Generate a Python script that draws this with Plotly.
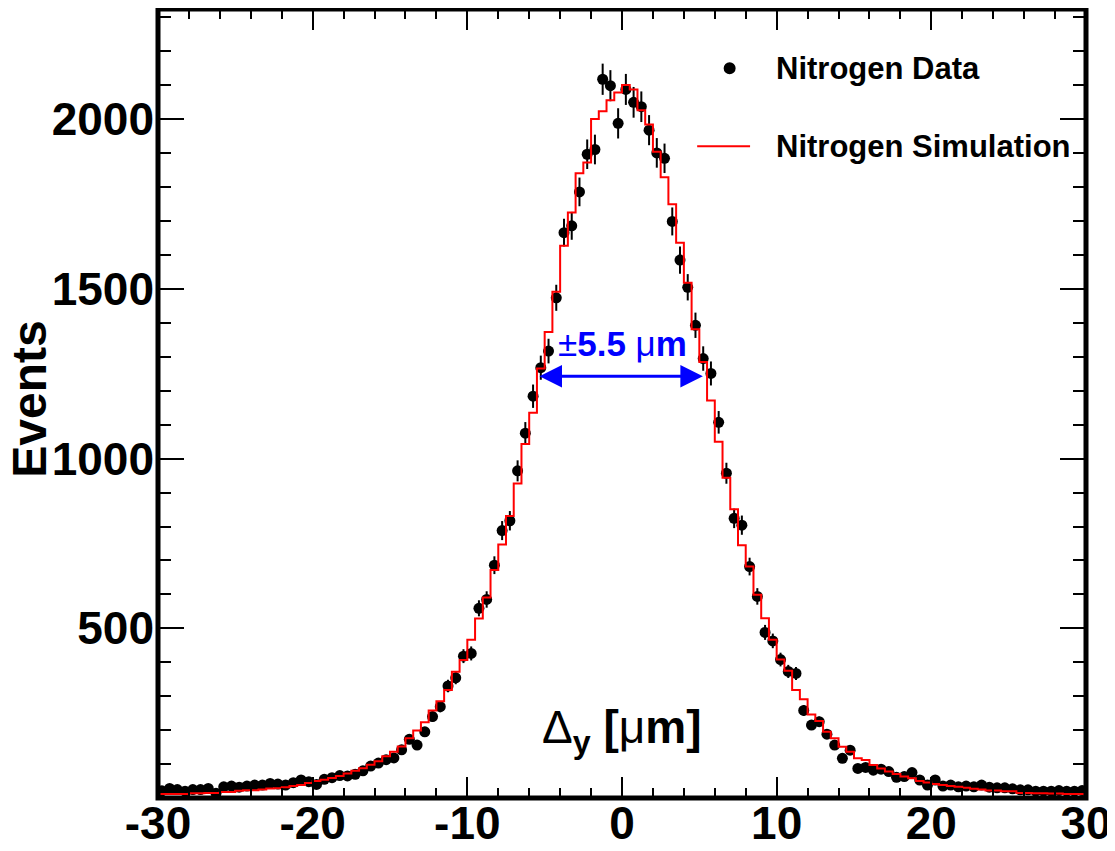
import numpy as np
import plotly.graph_objects as go

# ---- data -------------------------------------------------------------
x_min, x_max, bin_width = -30.0, 30.0, 0.5

data_counts = [
    21, 28, 25, 20, 25, 25, 28, 14, 33, 35,
    32, 35, 38, 38, 43, 41, 38, 45, 53, 48,
    40, 55, 60, 66, 65, 70, 80, 94, 103, 113,
    118, 142, 173, 156, 195, 240, 269, 330, 354, 418,
    426, 559, 585, 686, 788, 817, 964, 1075, 1184, 1268,
    1317, 1474, 1666, 1686, 1786, 1897, 1911, 2118, 2099, 1988,
    2088, 2050, 2037, 1968, 1901, 1885, 1699, 1585, 1505, 1393,
    1295, 1251, 1107, 957, 824, 804, 682, 594, 488, 463,
    408, 373, 367, 258, 215, 225, 188, 156, 117, 141,
    87, 90, 82, 85, 78, 61, 63, 75, 53, 38,
    53, 35, 38, 33, 35, 33, 38, 32, 30, 30,
    27, 24, 24, 20, 20, 20, 22, 20, 20, 22,
]

sim_counts = [
    12, 12, 12, 12, 14, 14, 15, 15, 18, 18,
    21, 23, 23, 25, 28, 29, 32, 35, 38, 44,
    50, 54, 59, 65, 72, 80, 88, 98, 108, 123,
    136, 152, 176, 199, 223, 258, 285, 318, 372, 407,
    466, 529, 591, 672, 747, 831, 927, 1043, 1135, 1266,
    1373, 1492, 1627, 1725, 1841, 1873, 2001, 2024, 2056, 2079,
    2101, 2088, 2027, 1985, 1904, 1829, 1750, 1636, 1518, 1381,
    1285, 1171, 1050, 944, 851, 745, 682, 599, 530, 466,
    408, 375, 318, 291, 246, 227, 195, 176, 151, 136,
    117, 112, 97, 87, 78, 71, 63, 58, 50, 46,
    41, 38, 35, 33, 30, 27, 25, 22, 22, 20,
    20, 15, 15, 14, 14, 13, 13, 12, 12, 12,
]

x_tick_vals = [-30, -20, -10, 0, 10, 20, 30]
x_tick_text = ["-30", "-20", "-10", "0", "10", "20", "30"]
y_tick_vals = [500, 1000, 1500, 2000]
y_tick_text = ["500", "1000", "1500", "2000"]

legend_labels = ["Nitrogen Data", "Nitrogen Simulation"]
width_half = 5.23
width_level = 1243

# ---- derived ----------------------------------------------------------
n_bins = len(data_counts)
edges = x_min + bin_width * np.arange(n_bins + 1)
centers = edges[:-1] + bin_width / 2
data_arr = np.array(data_counts, dtype=float)
errors = np.sqrt(data_arr)

step_x = list(edges)
step_y = list(sim_counts) + [sim_counts[-1]]

FONT = "Liberation Sans, Arial, Helvetica, sans-serif"

fig = go.Figure()

fig.add_trace(go.Scatter(
    x=centers, y=data_arr, mode="markers",
    marker=dict(color="black", size=11),
    error_y=dict(type="data", array=errors, visible=True,
                 color="black", thickness=2, width=0),
    showlegend=False, name=legend_labels[0],
))

fig.add_trace(go.Scatter(
    x=step_x, y=step_y, mode="lines", line_shape="hv",
    line=dict(color="#ff0000", width=2),
    showlegend=False, name=legend_labels[1],
))

axis_common = dict(
    ticks="inside", tickcolor="black", tickwidth=2,
    showgrid=False, zeroline=False, showline=False,
    mirror="allticks", automargin=False,
    tickfont=dict(family=FONT, size=46, color="black", weight="bold"),
)

fig.update_xaxes(
    range=[x_min, x_max], tickvals=x_tick_vals, ticktext=x_tick_text,
    ticklen=21, ticklabelstandoff=-6,
    minor=dict(ticks="inside", dtick=2, ticklen=10, tickcolor="black",
               tickwidth=2, showgrid=False),
    **axis_common,
)
fig.update_yaxes(
    range=[0, 2325], tickvals=y_tick_vals, ticktext=y_tick_text,
    ticklen=26, ticklabelstandoff=3,
    minor=dict(ticks="inside", dtick=100, ticklen=13, tickcolor="black",
               tickwidth=2, showgrid=False),
    **axis_common,
)

# frame
fig.add_shape(type="rect", xref="paper", yref="paper", x0=0, x1=1, y0=0, y1=1,
              line=dict(color="black", width=5), layer="above")

# double arrow
fig.add_annotation(x=width_half, y=width_level, ax=-width_half - 0.3, ay=width_level,
                   xref="x", yref="y", axref="x", ayref="y", text=" ",
                   showarrow=True, arrowside="end+start", arrowhead=2,
                   arrowsize=1.5, arrowwidth=3, arrowcolor="#0000ff",
                   standoff=0, startstandoff=0)

fig.add_annotation(x=0, y=width_level + 95, xref="x", yref="y",
                   text="±<b>5.5 </b>μ<b>m</b>", showarrow=False,
                   font=dict(family=FONT, size=35, color="#0000ff"),
                   xanchor="center", yanchor="middle")

# x-axis title (inside plot, ROOT style)
fig.add_annotation(x=0, y=200, xref="x", yref="y",
                   text="Δ<sub><b>y</b></sub> <b>[</b>μ<b>m]</b>",
                   showarrow=False,
                   font=dict(family=FONT, size=46, color="black"),
                   xanchor="center", yanchor="middle")

# y-axis title
fig.add_annotation(x=-0.138, y=0.506, xref="paper", yref="paper",
                   text="<b>Events</b>", textangle=-90, showarrow=False,
                   font=dict(family=FONT, size=48, color="black"),
                   xanchor="center", yanchor="middle")

# legend (manual)
fig.add_shape(type="circle", xref="paper", yref="paper",
              x0=0.616 - 6 / 928, x1=0.616 + 6 / 928,
              y0=0.925 - 6 / 789, y1=0.925 + 6 / 789,
              fillcolor="black", line=dict(color="black", width=0))
fig.add_shape(type="line", xref="paper", yref="paper",
              x0=0.581, x1=0.638, y0=0.826, y1=0.826,
              line=dict(color="#ff0000", width=2))
fig.add_annotation(x=0.664, y=0.925, xref="paper", yref="paper",
                   text="<b>" + legend_labels[0] + "</b>", showarrow=False,
                   font=dict(family=FONT, size=31, color="black"),
                   xanchor="left", yanchor="middle")
fig.add_annotation(x=0.664, y=0.826, xref="paper", yref="paper",
                   text="<b>" + legend_labels[1] + "</b>", showarrow=False,
                   font=dict(family=FONT, size=31, color="black"),
                   xanchor="left", yanchor="middle")

# page has an 8px body margin, so the figure is sized/offset to land on the
# reference's pixel positions
fig.update_layout(
    width=1107, height=843,
    margin=dict(l=150, r=29, t=1, b=53, autoexpand=False),
    paper_bgcolor="white", plot_bgcolor="white",
    showlegend=False,
)

fig.write_html("out.html")
